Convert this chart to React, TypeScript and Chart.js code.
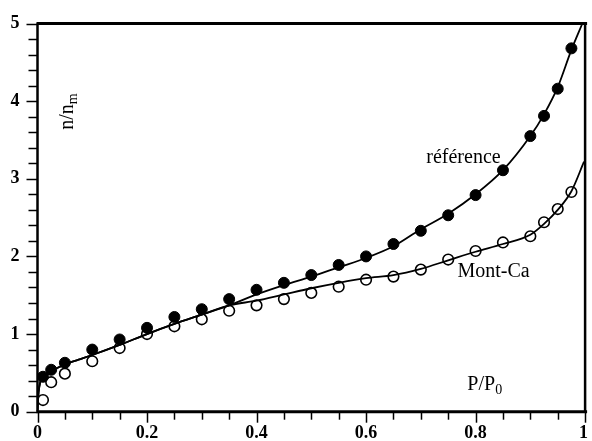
import React, { useEffect, useRef } from "react";
import { Chart, registerables } from "chart.js";

Chart.register(...registerables);

// Measured points (P/P0)
const pointX = [0.01, 0.025, 0.05, 0.1, 0.15, 0.2, 0.25, 0.3, 0.35, 0.4, 0.45, 0.5, 0.55, 0.6, 0.65, 0.7, 0.75, 0.8, 0.85, 0.9, 0.925, 0.95, 0.975];
const referenceY = [0.45, 0.54, 0.63, 0.8, 0.93, 1.08, 1.22, 1.32, 1.45, 1.57, 1.66, 1.76, 1.89, 2.0, 2.16, 2.33, 2.53, 2.79, 3.11, 3.55, 3.81, 4.16, 4.68];
const montCaY = [0.15, 0.38, 0.49, 0.65, 0.82, 1.0, 1.1, 1.19, 1.3, 1.37, 1.45, 1.53, 1.61, 1.7, 1.74, 1.83, 1.96, 2.07, 2.18, 2.26, 2.44, 2.61, 2.83];

// Fitted curves
const refCurveX = [0, 0.002, 0.005, 0.01, 0.02, 0.035, 0.05, 0.075, 0.1, 0.15, 0.2, 0.25, 0.3, 0.35, 0.4, 0.45, 0.5, 0.55, 0.6, 0.65, 0.7, 0.75, 0.8, 0.85, 0.9, 0.925, 0.95, 0.975, 0.995];
const refCurveY = [0.02, 0.25, 0.38, 0.44, 0.5, 0.56, 0.61, 0.67, 0.73, 0.86, 1.0, 1.13, 1.25, 1.37, 1.51, 1.63, 1.74, 1.86, 1.98, 2.13, 2.35, 2.55, 2.8, 3.11, 3.55, 3.83, 4.18, 4.66, 5.0];
const montCurveX = [0, 0.002, 0.005, 0.01, 0.02, 0.035, 0.05, 0.075, 0.1, 0.15, 0.2, 0.25, 0.3, 0.35, 0.4, 0.45, 0.5, 0.55, 0.6, 0.65, 0.7, 0.75, 0.8, 0.85, 0.9, 0.925, 0.95, 0.975, 0.998];
const montCurveY = [0.02, 0.25, 0.38, 0.44, 0.5, 0.56, 0.61, 0.67, 0.73, 0.86, 1.0, 1.13, 1.25, 1.37, 1.43, 1.51, 1.59, 1.66, 1.72, 1.76, 1.84, 1.95, 2.06, 2.16, 2.28, 2.42, 2.6, 2.84, 3.22];

// Axis ticks
const xMajorTicks = [0, 0.2, 0.4, 0.6, 0.8, 1];
const xTickLabels = ["0", "0.2", "0.4", "0.6", "0.8", "1"];
const xMinorStep = 0.05;
const yMajorTicks = [0, 1, 2, 3, 4, 5];
const yTickLabels = ["0", "1", "2", "3", "4", "5"];
const yMinorStep = 0.2;

const SERIF = '"Liberation Serif", "Times New Roman", serif';

const decorPlugin = {
  id: "decor",
  afterDraw(chart: any) {
    const { ctx, chartArea } = chart;
    const xs = chart.scales.x;
    const ys = chart.scales.y;
    const { left, right, top, bottom } = chartArea;
    ctx.save();
    ctx.strokeStyle = "#000";
    ctx.fillStyle = "#000";

    // minor / major ticks
    ctx.lineWidth = 1.5;
    const nx = Math.round(1 / xMinorStep);
    for (let i = 0; i <= nx; i++) {
      const v = i * xMinorStep;
      const major = xMajorTicks.some((m) => Math.abs(m - v) < 1e-6);
      const px = Math.round(xs.getPixelForValue(v)) + 0.5;
      ctx.beginPath();
      ctx.moveTo(px, bottom);
      ctx.lineTo(px, bottom + (major ? 11 : 8));
      ctx.stroke();
    }
    const ny = Math.round(5 / yMinorStep);
    for (let i = 0; i <= ny; i++) {
      const v = i * yMinorStep;
      const major = yMajorTicks.some((m) => Math.abs(m - v) < 1e-6);
      const py = Math.round(ys.getPixelForValue(v)) + 0.5;
      ctx.beginPath();
      ctx.moveTo(left, py);
      ctx.lineTo(left - (major ? 11 : 9), py);
      ctx.stroke();
    }

    // frame
    ctx.lineWidth = 3;
    ctx.beginPath();
    ctx.moveTo(left - 1, top);
    ctx.lineTo(right + 2, top);
    ctx.moveTo(left - 1, bottom);
    ctx.lineTo(right + 2, bottom);
    ctx.stroke();
    ctx.lineWidth = 2.5;
    ctx.beginPath();
    ctx.moveTo(left, top);
    ctx.lineTo(left, bottom);
    ctx.moveTo(right, top);
    ctx.lineTo(right, bottom);
    ctx.stroke();

    // tick labels
    ctx.font = `bold 18px ${SERIF}`;
    ctx.textBaseline = "middle";
    ctx.textAlign = "right";
    yMajorTicks.forEach((v, i) => {
      ctx.fillText(yTickLabels[i], left - 18, ys.getPixelForValue(v));
    });
    ctx.textAlign = "center";
    xMajorTicks.forEach((v, i) => {
      const w = ctx.measureText(xTickLabels[i]).width;
      let px = xs.getPixelForValue(v);
      px = Math.min(px, chart.width - 4 - w / 2);
      ctx.fillText(xTickLabels[i], px, bottom + 22);
    });

    // annotations
    ctx.textBaseline = "alphabetic";
    ctx.textAlign = "left";
    ctx.font = `20px ${SERIF}`;
    ctx.fillText("référence", xs.getPixelForValue(0.71), ys.getPixelForValue(3.2));
    ctx.fillText("Mont-Ca", xs.getPixelForValue(0.767), ys.getPixelForValue(1.74));

    const ppx = xs.getPixelForValue(0.785);
    const ppy = ys.getPixelForValue(0.28);
    ctx.fillText("P/P", ppx, ppy);
    const wpp = ctx.measureText("P/P").width;
    ctx.font = `14px ${SERIF}`;
    ctx.fillText("0", ppx + wpp, ppy + 4);

    // rotated y title
    ctx.save();
    ctx.translate(xs.getPixelForValue(0.064), ys.getPixelForValue(3.63));
    ctx.rotate(-Math.PI / 2);
    ctx.font = `20px ${SERIF}`;
    ctx.fillText("n/n", 0, 0);
    const wn = ctx.measureText("n/n").width;
    ctx.font = `14px ${SERIF}`;
    ctx.fillText("m", wn, 4);
    ctx.restore();

    ctx.restore();
  },
};

export default function App() {
  const canvasRef = useRef<HTMLCanvasElement | null>(null);

  useEffect(() => {
    const canvas = canvasRef.current;
    if (!canvas) return;
    const toPts = (xa: number[], ya: number[]) => xa.map((x, i) => ({ x, y: ya[i] }));
    const chart = new Chart(canvas, {
      type: "line",
      data: {
        datasets: [
          {
            data: toPts(refCurveX, refCurveY),
            borderColor: "#000",
            borderWidth: 1.8,
            pointRadius: 0,
            cubicInterpolationMode: "monotone",
            fill: false,
          },
          {
            data: toPts(montCurveX, montCurveY),
            borderColor: "#000",
            borderWidth: 1.8,
            pointRadius: 0,
            cubicInterpolationMode: "monotone",
            fill: false,
          },
          {
            data: toPts(pointX, referenceY),
            showLine: false,
            pointRadius: 5.5,
            pointBackgroundColor: "#000",
            pointBorderColor: "#000",
            pointBorderWidth: 1,
          },
          {
            data: toPts(pointX, montCaY),
            showLine: false,
            pointRadius: 5.3,
            pointBackgroundColor: "rgba(0,0,0,0)",
            pointBorderColor: "#000",
            pointBorderWidth: 1.6,
          },
        ],
      } as any,
      options: {
        responsive: false,
        animation: false,
        devicePixelRatio: 1,
        layout: { padding: { left: 37.5, right: -2, top: 23.5, bottom: 29.3 } },
        plugins: { legend: { display: false }, tooltip: { enabled: false } },
        scales: {
          x: { type: "linear", min: 0, max: 1, display: false },
          y: { type: "linear", min: 0, max: 5, display: false },
        },
      } as any,
      plugins: [decorPlugin],
    });
    return () => chart.destroy();
  }, []);

  return (
    <div style={{ position: "absolute", left: 0, top: 0, width: 592, height: 441, background: "#fff" }}>
      <canvas ref={canvasRef} width={592} height={441} style={{ display: "block" }} />
    </div>
  );
}
